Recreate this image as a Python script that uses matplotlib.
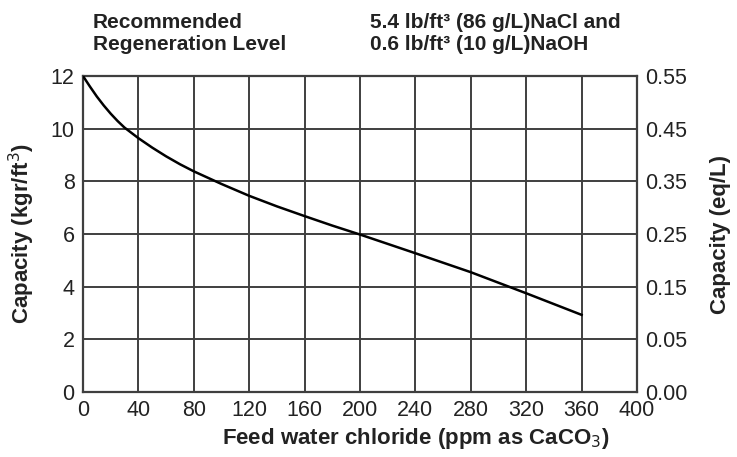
import matplotlib
matplotlib.use("Agg")
import matplotlib.pyplot as plt

plt.rcParams['font.family'] = ['Liberation Sans', 'DejaVu Sans']

# Data
chloride_ppm = [0, 2.5, 5, 10, 15, 20, 25, 30, 40, 50, 60, 70, 80, 100, 120, 140,
                160, 180, 200, 240, 280, 320, 360]
capacity_kgr = [12.0, 11.8, 11.6, 11.22, 10.88, 10.57, 10.29, 10.04, 9.64, 9.28, 8.95,
                8.65, 8.38, 7.9, 7.45, 7.05, 6.68, 6.32, 5.98, 5.27, 4.55, 3.75, 2.93]

x_ticks = [0, 40, 80, 120, 160, 200, 240, 280, 320, 360, 400]
left_ticks = [0, 2, 4, 6, 8, 10, 12]
right_labels = ['0.00', '0.05', '0.15', '0.25', '0.35', '0.45', '0.55']

GRID = '#3f3f3f'
TEXT = '#222222'

fig = plt.figure(figsize=(7.37, 4.57), dpi=100)
ax = fig.add_axes([0.1126, 0.1422, 0.7517, 0.6915])

ax.plot(chloride_ppm, capacity_kgr, color='black', linewidth=1.8, zorder=3)

ax.set_xlim(0, 400)
ax.set_ylim(0, 12)
ax.set_xticks(x_ticks)
ax.set_yticks(left_ticks)
ax.grid(True, color=GRID, linewidth=1.4)
ax.tick_params(length=0, labelsize=15.5, colors=TEXT, pad=6)
for s in ax.spines.values():
    s.set_color(GRID)
    s.set_linewidth(1.6)

ax.set_xlabel('Feed water chloride (ppm as CaCO$_3$)', fontsize=16,
              fontweight='bold', color=TEXT)
ax.xaxis.set_label_coords(0.601, -0.108)
ax.set_ylabel('Capacity (kgr/ft$^3$)', fontsize=16, fontweight='bold',
              color=TEXT, labelpad=10)

# right axis: label-only scale in eq/L
ax2 = ax.twinx()
ax2.set_ylim(0, 12)
ax2.set_yticks(left_ticks)
ax2.set_yticklabels(right_labels)
ax2.tick_params(length=0, labelsize=15.5, colors=TEXT, pad=6)
for s in ax2.spines.values():
    s.set_visible(False)
ax2.set_ylabel('Capacity (eq/L)', fontsize=16, fontweight='bold',
               color=TEXT, labelpad=16)

# header notes
fig.text(93 / 737, 1 - 22 / 457, 'Recommended', fontsize=15,
         fontweight='bold', color=TEXT, va='center')
fig.text(93 / 737, 1 - 44 / 457, 'Regeneration Level', fontsize=15,
         fontweight='bold', color=TEXT, va='center')
fig.text(370 / 737, 1 - 22 / 457, '5.4 lb/ft³ (86 g/L)NaCl and', fontsize=15,
         fontweight='bold', color=TEXT, va='center')
fig.text(370 / 737, 1 - 44 / 457, '0.6 lb/ft³ (10 g/L)NaOH', fontsize=15,
         fontweight='bold', color=TEXT, va='center')

fig.savefig('out.png', dpi=100)
